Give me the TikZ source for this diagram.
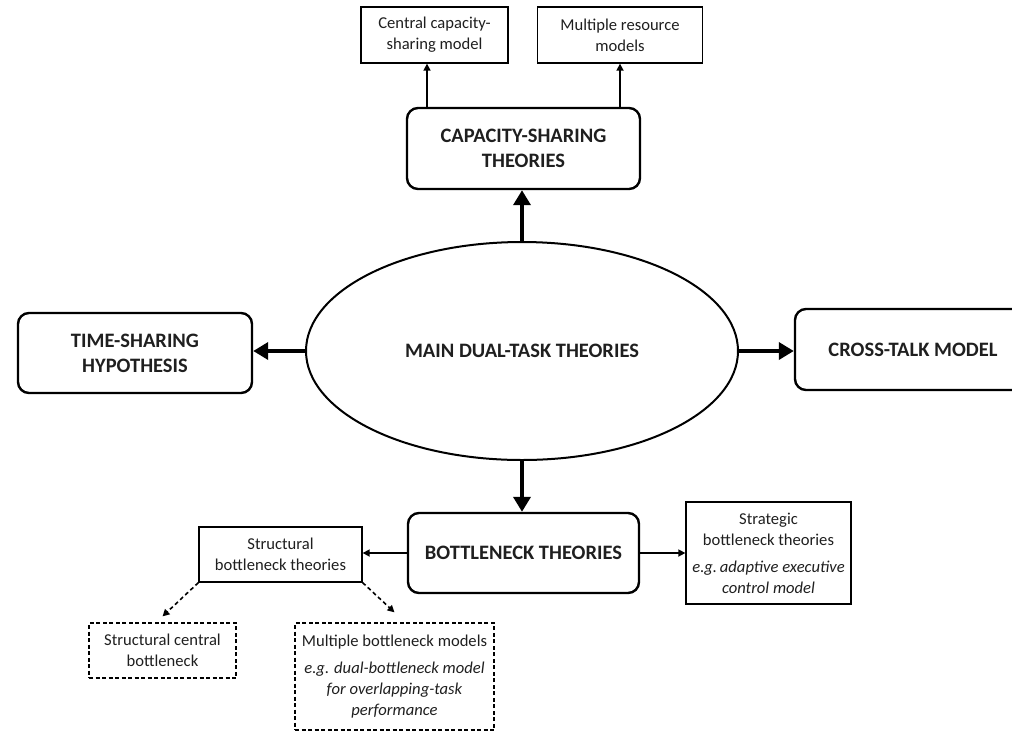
\documentclass[tikz,border=0pt]{standalone}
\usepackage{fontspec}
\setmainfont{Carlito}
\usetikzlibrary{arrows.meta,shapes.geometric,calc}
\begin{document}
\begin{tikzpicture}[x=1pt,y=-1pt,
  every node/.style={inner sep=0pt, align=center, text=black!88},
  mainbox/.style={draw, line width=2.4pt, rounded corners=11pt,
    font=\fontsize{20.5}{25}\selectfont\bfseries},
  subbox/.style={draw, line width=1.3pt, font=\fontsize{16.6}{21}\selectfont},
  dashbox/.style={subbox, dashed, dash pattern=on 4pt off 2.5pt},
  bigarrow/.style={line width=3.6pt, -{Triangle[length=15pt,width=17pt]}},
  smallarrow/.style={line width=1.6pt, -{Triangle[length=7pt,width=7pt]}},
  dasharrow/.style={line width=1.6pt, dash pattern=on 4pt off 3pt, -{Triangle[length=7pt,width=7pt]}}
]
\useasboundingbox (0,0) rectangle (1012,732);

% central ellipse
\node[draw, line width=2pt, ellipse, minimum width=432pt, minimum height=218pt,
      font=\fontsize{20.5}{25}\selectfont\bfseries] (ell) at (522,351) {MAIN DUAL-TASK THEORIES};

% first level of theories
\node[mainbox, minimum width=233pt, minimum height=81pt] (cap) at (523.5,148.5) {CAPACITY-SHARING\\THEORIES};
\node[mainbox, minimum width=234pt, minimum height=80pt] (time) at (135,353) {TIME-SHARING\\HYPOTHESIS};
\node[mainbox, minimum width=236pt, minimum height=81pt] (cross) at (913,349.5) {CROSS-TALK MODEL};
\node[mainbox, minimum width=231pt, minimum height=80pt] (bott) at (523.5,553) {BOTTLENECK THEORIES};

% capacity-sharing models
\node[subbox, minimum width=147pt, minimum height=56pt] (cen) at (434.5,35) {Central capacity-\\sharing model};
\node[subbox, minimum width=165pt, minimum height=56pt] (mult) at (620,35) {Multiple resource\\models};

% bottleneck branches
\node[subbox, minimum width=163pt, minimum height=55pt] (struct) at (280.5,554.5) {Structural\\bottleneck theories};
\node[subbox, minimum width=165pt, minimum height=102pt] (strat) at (768.5,553)
  {Strategic\\bottleneck theories\\[6pt]\itshape e.g.\,adaptive executive\\\itshape control model};
\node[dashbox, minimum width=147pt, minimum height=55pt] (scb) at (162.5,650.5) {Structural central\\bottleneck};
\node[dashbox, minimum width=199pt, minimum height=107pt] (mbm) at (394.5,676.5)
  {Multiple bottleneck models\\[6pt]\itshape e.g. dual-bottleneck model\\\itshape for overlapping-task\\\itshape performance};

% connectors from the main ellipse
\draw[bigarrow] (ell.north) -- (ell.north |- cap.south);
\draw[bigarrow] (ell.south) -- (ell.south |- bott.north);
\draw[bigarrow] (ell.west) -- (ell.west -| time.east);
\draw[bigarrow] (ell.east) -- (ell.east -| cross.west);

% capacity-sharing connectors
\draw[smallarrow] ([xshift=-7.5pt]cap.north -| cen.south) -- ([xshift=-7.5pt]cen.south);
\draw[smallarrow] (cap.north -| mult.south) -- (mult.south);

% bottleneck connectors
\draw[smallarrow] (bott.west) -- (bott.west -| struct.east);
\draw[smallarrow] (bott.east) -- (bott.east -| strat.west);
\draw[dasharrow] (struct.south west) -- ([yshift=6pt]scb.north);
\draw[dasharrow] (struct.south east) -- ([yshift=10pt]mbm.north);
\end{tikzpicture}
\end{document}
